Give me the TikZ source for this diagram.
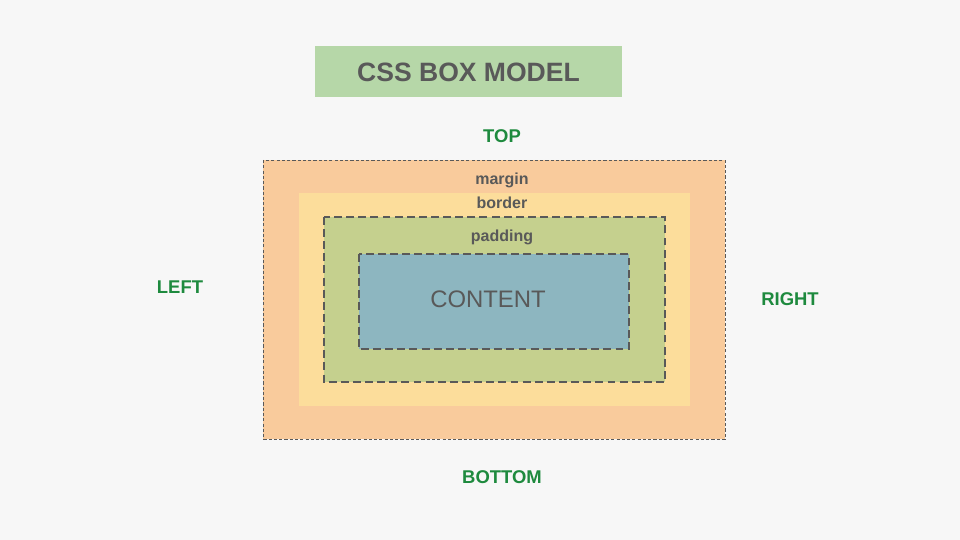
\documentclass[tikz,border=0pt]{standalone}
\usepackage{fontspec}
\setmainfont{Liberation Sans}
\usetikzlibrary{positioning}
\definecolor{PageGray}{HTML}{F7F7F7}
\definecolor{TitleGreen}{HTML}{B6D7A8}
\definecolor{TextGray}{HTML}{595959}
\definecolor{SideGreen}{HTML}{1E8A3E}
\definecolor{MarginOrange}{HTML}{F9CB9C}
\definecolor{BorderYellow}{HTML}{FCDD9B}
\definecolor{PaddingGreen}{HTML}{C5D08E}
\definecolor{ContentBlue}{HTML}{8DB6C0}

\begin{document}
\begin{tikzpicture}[
  x=0.02cm, y=-0.02cm,
  side/.style  = {font=\fontsize{10.5}{12}\selectfont\bfseries, text=SideGreen},
  layer/.style = {font=\fontsize{9.1}{11}\selectfont\bfseries, text=TextGray},
  thindash/.style  = {draw=TextGray, line width=0.5pt, dash pattern=on 1.8pt off 1.2pt},
  thickdash/.style = {draw=TextGray, line width=1.1pt, dash pattern=on 4.5pt off 2.4pt}
]
  % page
  \fill[PageGray] (0,0) rectangle (960,540);

  % title
  \fill[TitleGreen] (315,46) rectangle (622,97);
  \node[font=\fontsize{15.1}{18}\selectfont\bfseries, text=TextGray] (title) at (468.5,72) {CSS BOX MODEL};

  % nested boxes
  \path[fill=MarginOrange, thindash] (263,160) rectangle (725,439);
  \fill[BorderYellow] (299,193) rectangle (690,406);
  \path[fill=PaddingGreen, thickdash] (324,217) rectangle (665,382);
  \path[fill=ContentBlue, thickdash] (359,254) rectangle (629,349);

  % labels
  \node[layer] (margin)  at (502,180) {margin};
  \node[layer] (border)  at (502,203) {border};
  \node[layer] (padding) at (502,237) {padding};
  \node[font=\fontsize{13.6}{16}\selectfont, text=TextGray] (content) at (488,299) {CONTENT};

  \node[side] (top)    at (502,136) {TOP};
  \node[side] (left)   at (180,287) {LEFT};
  \node[side] (right)  at (790,299) {RIGHT};
  \node[side] (bottom) at (502,477) {BOTTOM};
\end{tikzpicture}
\end{document}
